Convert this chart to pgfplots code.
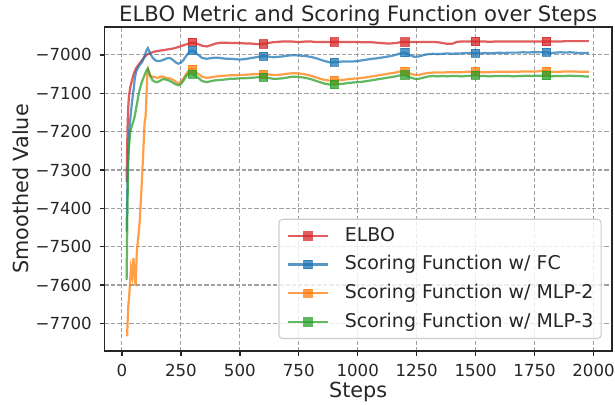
\documentclass[border=0pt]{standalone}
\usepackage{pgfplots}
\pgfplotsset{compat=1.18}
\usepackage{fontspec}
\setmainfont{DejaVu Sans}
\definecolor{tred}{HTML}{D62728}
\definecolor{tblue}{HTML}{1F77B4}
\definecolor{torange}{HTML}{FF7F0E}
\definecolor{tgreen}{HTML}{2CA02C}
\definecolor{gridc}{HTML}{A0A0A0}
\definecolor{spine}{HTML}{262626}
\definecolor{legframe}{HTML}{CCCCCC}
\begin{document}
\begin{tikzpicture}
\begin{axis}[
  at={(0,0)}, anchor=south west,
  scale only axis, width=365.4bp, height=233.3bp,
  xmin=-74, xmax=2078, ymin=-7772, ymax=-6927,
  axis line style={spine, line width=1bp},
  tick align=outside, xtick pos=bottom, ytick pos=left,
  tick style={spine, line width=1bp}, major tick length=3.5bp,
  xtick={0,250,500,750,1000,1250,1500,1750,2000},
  xticklabels={0,250,500,750,1000,1250,1500,1750,2000},
  ytick={-7700,-7600,-7500,-7400,-7300,-7200,-7100,-7000},
  yticklabels={−7700,−7600,−7500,−7400,−7300,−7200,−7100,−7000},
  tick label style={font=\fontsize{12}{14}\selectfont, text=spine},
  xticklabel style={anchor=base, yshift=-15.1bp},
  yticklabel style={anchor=east, inner sep=0pt, xshift=-5.4bp},
  grid=major,
  major grid style={gridc, dash pattern=on 3bp off 1.5bp, line width=0.8bp},
  title={ELBO Metric and Scoring Function over Steps},
  every axis title shift=0pt,
  title style={at={(0.5,1.0171)}, anchor=base, font=\fontsize{15.3}{18}\selectfont, text=spine},
  xlabel={Steps},
  xlabel style={at={(0.5,-0.1449)}, anchor=base, font=\fontsize{15}{18}\selectfont, text=spine},
  ylabel={Smoothed Value},
  ylabel style={at={(-0.1489,0.5)}, anchor=base, font=\fontsize{15}{18}\selectfont, text=spine},
  legend cell align=left,
  legend image code/.code={\draw[#1, mark indices={2}] plot coordinates {(0bp,0bp) (14.4bp,0bp) (28.8bp,0bp)};},
  legend style={at={(0.9797,0.0369)}, anchor=south east, draw=legframe, line width=0.8bp,
    rounded corners=2.5bp, fill=white, fill opacity=0.8, text opacity=1,
    font=\fontsize{13.7}{16}\selectfont, text=spine,
    inner xsep=5.5bp, inner ysep=5.25bp, row sep=7.1bp, column sep=11.5bp,
    nodes={inner sep=0pt, text height=10.5bp, text depth=3bp}},
  every axis plot/.append style={line width=1.6bp, opacity=0.75, mark=square*, mark size=3bp, mark options={solid, line width=0.5bp}},
]
\addplot[tred, mark indices={41,56,71,86,101,116}] coordinates {
(20,-7331)(22,-7255)(24,-7190)(26,-7150)(28,-7125)(30,-7108)(35,-7086)(40,-7073)(45,-7061)(50,-7050)
(55,-7042)(60,-7035)(65,-7030)(70,-7026)(75,-7022)(80,-7018)(85,-7014)(90,-7010)(95,-7006)(100,-7003)
(105,-7000)(110,-6998)(120,-6995)(130,-6993)(140,-6991)(150,-6990)(160,-6989)(170,-6988)(180,-6987)(190,-6986)
(200,-6985)(210,-6984)(220,-6983)(230,-6981)(240,-6979)(250,-6977)(260,-6975)(270,-6973)(280,-6971)(290,-6969)
(300,-6968)(320,-6971)(340,-6976)(360,-6978)(380,-6974)(400,-6970)(420,-6968)(440,-6968)(460,-6969)(480,-6969)
(500,-6969)(520,-6970)(540,-6970)(560,-6971)(580,-6972)(600,-6971)(620,-6969)(640,-6967)(660,-6966)(680,-6965)
(700,-6965)(720,-6965)(740,-6966)(760,-6966)(780,-6965)(800,-6965)(820,-6966)(840,-6966)(860,-6966)(880,-6966)
(900,-6966)(920,-6966)(940,-6966)(960,-6966)(980,-6966)(1000,-6966)(1020,-6967)(1040,-6967)(1060,-6967)(1080,-6968)
(1100,-6969)(1120,-6970)(1140,-6970)(1160,-6969)(1180,-6967)(1200,-6966)(1220,-6966)(1240,-6966)(1260,-6966)(1280,-6966)
(1300,-6966)(1320,-6966)(1340,-6967)(1360,-6969)(1380,-6971)(1400,-6971)(1420,-6966)(1440,-6965)(1460,-6965)(1480,-6965)
(1500,-6965)(1520,-6965)(1540,-6965)(1560,-6966)(1580,-6965)(1600,-6965)(1620,-6965)(1640,-6965)(1660,-6965)(1680,-6965)
(1700,-6965)(1720,-6965)(1740,-6965)(1760,-6965)(1780,-6965)(1800,-6965)(1820,-6965)(1840,-6965)(1860,-6965)(1880,-6964)
(1900,-6964)(1920,-6964)(1940,-6964)(1960,-6964)(1980,-6964)
};
\addlegendentry{ELBO}
\addplot[tblue, mark indices={41,56,71,86,101,116}] coordinates {
(20,-7461)(22,-7390)(24,-7320)(26,-7270)(28,-7235)(30,-7205)(35,-7170)(40,-7140)(45,-7112)(50,-7088)
(55,-7060)(60,-7045)(65,-7037)(70,-7032)(75,-7027)(80,-7023)(85,-7019)(90,-7013)(95,-7005)(100,-6996)
(105,-6987)(110,-6982)(120,-6996)(130,-7007)(140,-7013)(150,-7016)(160,-7016)(170,-7014)(180,-7012)(190,-7009)
(200,-7008)(210,-7010)(220,-7015)(230,-7020)(240,-7023)(250,-7020)(260,-7014)(270,-7005)(280,-6997)(290,-6990)
(300,-6988)(320,-6998)(340,-7008)(360,-7010)(380,-7008)(400,-7007)(420,-7008)(440,-7010)(460,-7010)(480,-7011)
(500,-7012)(520,-7011)(540,-7009)(560,-7007)(580,-7005)(600,-7003)(620,-7004)(640,-7006)(660,-7005)(680,-7004)
(700,-7002)(720,-7001)(740,-7001)(760,-7002)(780,-7003)(800,-7005)(820,-7008)(840,-7012)(860,-7016)(880,-7019)
(900,-7019)(920,-7018)(940,-7017)(960,-7017)(980,-7017)(1000,-7016)(1020,-7014)(1040,-7012)(1060,-7010)(1080,-7009)
(1100,-7007)(1120,-7005)(1140,-7003)(1160,-7000)(1180,-6996)(1200,-6994)(1220,-7000)(1240,-7005)(1260,-7004)(1280,-7000)
(1300,-6998)(1320,-6997)(1340,-6998)(1360,-6997)(1380,-6996)(1400,-6997)(1420,-6996)(1440,-6996)(1460,-6995)(1480,-6995)
(1500,-6995)(1520,-6996)(1540,-6995)(1560,-6996)(1580,-6995)(1600,-6994)(1620,-6995)(1640,-6994)(1660,-6994)(1680,-6994)
(1700,-6993)(1720,-6994)(1740,-6993)(1760,-6993)(1780,-6993)(1800,-6993)(1820,-6995)(1840,-6994)(1860,-6993)(1880,-6994)
(1900,-6993)(1920,-6994)(1940,-6995)(1960,-6995)(1980,-6995)
};
\addlegendentry{Scoring Function w/ FC}
\addplot[torange, mark indices={43,58,73,88,103,118}] coordinates {
(22,-7734)(24,-7700)(27,-7655)(31,-7628)(34,-7600)(38,-7559)(41,-7572)(44,-7580)(46,-7552)(49,-7530)
(53,-7565)(58,-7602)(63,-7517)(69,-7478)(75,-7439)(82,-7361)(89,-7275)(96,-7179)(101,-7157)(104,-7110)
(106,-7079)(108,-7050)(111,-7038)(115,-7046)
(120,-7053)(130,-7057)(140,-7058)(150,-7060)(160,-7058)(170,-7056)(180,-7058)(190,-7060)(200,-7061)(210,-7063)
(220,-7066)(230,-7071)(240,-7074)(250,-7070)(260,-7062)(270,-7052)(280,-7043)(290,-7037)(300,-7038)
(320,-7048)(340,-7057)(360,-7060)(380,-7058)(400,-7056)(420,-7055)(440,-7054)(460,-7053)(480,-7053)
(500,-7052)(520,-7052)(540,-7051)(560,-7050)(580,-7050)(600,-7050)(620,-7051)(640,-7052)(660,-7052)(680,-7051)
(700,-7049)(720,-7048)(740,-7048)(760,-7049)(780,-7051)(800,-7054)(820,-7058)(840,-7062)(860,-7065)(880,-7067)
(900,-7067)(920,-7066)(940,-7065)(960,-7063)(980,-7062)(1000,-7061)(1020,-7060)(1040,-7058)(1060,-7056)(1080,-7054)
(1100,-7052)(1120,-7050)(1140,-7048)(1160,-7046)(1180,-7043)(1200,-7042)(1220,-7048)(1240,-7052)(1260,-7052)(1280,-7049)
(1300,-7047)(1320,-7046)(1340,-7046)(1360,-7046)(1380,-7045)(1400,-7045)(1420,-7045)(1440,-7045)(1460,-7044)(1480,-7044)
(1500,-7043)(1520,-7045)(1540,-7045)(1560,-7045)(1580,-7044)(1600,-7044)(1620,-7044)(1640,-7044)(1660,-7044)(1680,-7044)
(1700,-7043)(1720,-7043)(1740,-7043)(1760,-7043)(1780,-7042)(1800,-7042)(1820,-7045)(1840,-7044)(1860,-7044)(1880,-7043)
(1900,-7043)(1920,-7043)(1940,-7044)(1960,-7044)(1980,-7044)
};
\addlegendentry{Scoring Function w/ MLP-2}
\addplot[tgreen, mark indices={41,56,71,86,101,116}] coordinates {
(20,-7587)(22,-7480)(24,-7380)(26,-7300)(28,-7265)(30,-7240)(35,-7205)(40,-7190)(45,-7180)(50,-7170)
(55,-7158)(60,-7140)(65,-7124)(70,-7105)(75,-7092)(80,-7080)(85,-7070)(90,-7062)(95,-7054)(100,-7047)
(105,-7040)(110,-7036)(120,-7055)(130,-7066)(140,-7070)(150,-7071)(160,-7068)(170,-7064)(180,-7063)(190,-7065)
(200,-7067)(210,-7070)(220,-7074)(230,-7077)(240,-7079)(250,-7076)(260,-7068)(270,-7058)(280,-7050)(290,-7048)
(300,-7050)(320,-7058)(340,-7068)(360,-7071)(380,-7068)(400,-7066)(420,-7065)(440,-7064)(460,-7062)(480,-7062)
(500,-7061)(520,-7061)(540,-7060)(560,-7059)(580,-7058)(600,-7058)(620,-7060)(640,-7062)(660,-7062)(680,-7061)
(700,-7059)(720,-7057)(740,-7057)(760,-7058)(780,-7060)(800,-7063)(820,-7067)(840,-7071)(860,-7075)(880,-7077)
(900,-7077)(920,-7076)(940,-7075)(960,-7073)(980,-7072)(1000,-7071)(1020,-7070)(1040,-7068)(1060,-7066)(1080,-7064)
(1100,-7062)(1120,-7060)(1140,-7058)(1160,-7056)(1180,-7053)(1200,-7052)(1220,-7058)(1240,-7062)(1260,-7062)(1280,-7059)
(1300,-7056)(1320,-7055)(1340,-7056)(1360,-7055)(1380,-7056)(1400,-7055)(1420,-7055)(1440,-7056)(1460,-7055)(1480,-7054)
(1500,-7053)(1520,-7055)(1540,-7055)(1560,-7056)(1580,-7055)(1600,-7055)(1620,-7055)(1640,-7055)(1660,-7056)(1680,-7055)
(1700,-7055)(1720,-7054)(1740,-7055)(1760,-7054)(1780,-7054)(1800,-7054)(1820,-7056)(1840,-7055)(1860,-7055)(1880,-7055)
(1900,-7054)(1920,-7055)(1940,-7055)(1960,-7056)(1980,-7056)
};
\addlegendentry{Scoring Function w/ MLP-3}
\end{axis}
\pgfresetboundingbox
\path[use as bounding box] (-75.2bp,-38.9bp) rectangle (367.6bp,252.7bp);
\end{tikzpicture}
\end{document}
